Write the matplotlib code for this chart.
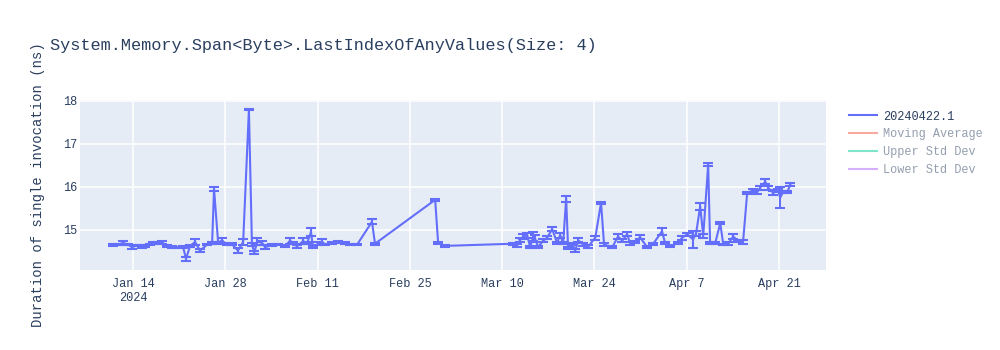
import pandas as pd
import matplotlib
matplotlib.use("Agg")
import matplotlib.pyplot as plt
from matplotlib.lines import Line2D

# benchmark runs: timestamp, mean duration (ns), error
dates = [
    "2024-01-10 23:00", "2024-01-11 17:00", "2024-01-12 12:00", "2024-01-13 06:00",
    "2024-01-13 20:00", "2024-01-14 15:00", "2024-01-15 09:00", "2024-01-15 20:00",
    "2024-01-16 14:00", "2024-01-17 01:00", "2024-01-17 15:00", "2024-01-18 10:00",
    "2024-01-19 04:00", "2024-01-19 22:00", "2024-01-20 20:00", "2024-01-21 14:00",
    "2024-01-22 01:00", "2024-01-22 16:00", "2024-01-23 10:00", "2024-01-24 04:00",
    "2024-01-25 06:00", "2024-01-26 00:00", "2024-01-26 07:00", "2024-01-26 22:00",
    "2024-01-27 12:00", "2024-01-28 06:00", "2024-01-29 00:00", "2024-01-29 22:00",
    "2024-01-30 17:00", "2024-01-31 14:00", "2024-02-01 01:00", "2024-02-01 10:00",
    "2024-02-01 20:00", "2024-02-02 14:00", "2024-02-03 01:00", "2024-02-04 02:00",
    "2024-02-05 00:00", "2024-02-06 02:00", "2024-02-06 20:00", "2024-02-07 07:00",
    "2024-02-07 21:00", "2024-02-08 19:00", "2024-02-09 10:00", "2024-02-10 00:00",
    "2024-02-10 07:00", "2024-02-11 02:00", "2024-02-11 16:00", "2024-02-12 03:00",
    "2024-02-13 05:00", "2024-02-14 03:00", "2024-02-15 04:00", "2024-02-15 22:00",
    "2024-02-17 00:00", "2024-02-19 06:00", "2024-02-19 17:00", "2024-02-28 20:00",
    "2024-02-29 07:00", "2024-03-01 08:00", "2024-03-11 16:00", "2024-03-12 06:00",
    "2024-03-12 18:00", "2024-03-13 04:00", "2024-03-13 19:00", "2024-03-14 06:00",
    "2024-03-14 17:00", "2024-03-15 00:00", "2024-03-15 11:00", "2024-03-16 05:00",
    "2024-03-16 20:00", "2024-03-17 14:00", "2024-03-18 08:00", "2024-03-18 19:00",
    "2024-03-19 06:00", "2024-03-19 17:00", "2024-03-20 00:00", "2024-03-20 15:00",
    "2024-03-21 02:00", "2024-03-21 13:00", "2024-03-22 07:00", "2024-03-23 01:00",
    "2024-03-24 03:00", "2024-03-25 00:00", "2024-03-25 11:00", "2024-03-26 17:00",
    "2024-03-27 14:00", "2024-03-28 05:00", "2024-03-28 23:00", "2024-03-29 10:00",
    "2024-03-30 04:00", "2024-03-30 22:00", "2024-04-01 00:00", "2024-04-01 22:00",
    "2024-04-03 06:00", "2024-04-03 17:00", "2024-04-04 12:00", "2024-04-05 17:00",
    "2024-04-06 07:00", "2024-04-07 02:00", "2024-04-07 23:00", "2024-04-08 10:00",
    "2024-04-09 01:00", "2024-04-09 12:00", "2024-04-10 06:00", "2024-04-10 13:00",
    "2024-04-11 08:00", "2024-04-12 02:00", "2024-04-12 13:00", "2024-04-13 07:00",
    "2024-04-14 01:00", "2024-04-14 19:00", "2024-04-15 13:00", "2024-04-16 04:00",
    "2024-04-17 02:00", "2024-04-17 17:00", "2024-04-18 03:00", "2024-04-18 22:00",
    "2024-04-19 09:00", "2024-04-20 03:00", "2024-04-20 21:00", "2024-04-21 04:00",
    "2024-04-21 15:00", "2024-04-22 06:00", "2024-04-22 17:00",
]
means = [
    14.65, 14.66, 14.70, 14.66, 14.60, 14.64, 14.62, 14.63,
    14.66, 14.70, 14.69, 14.71, 14.63, 14.60, 14.59, 14.61,
    14.33, 14.63, 14.72, 14.52, 14.66, 14.70, 15.95, 14.70,
    14.76, 14.66, 14.67, 14.52, 14.72, 17.80, 14.66, 14.48,
    14.73, 14.70, 14.60, 14.65, 14.66, 14.63, 14.75, 14.70,
    14.62, 14.74, 14.70, 14.95, 14.60, 14.68, 14.73, 14.66,
    14.70, 14.72, 14.70, 14.66, 14.66, 15.19, 14.68, 15.70,
    14.69, 14.63, 14.68, 14.64, 14.77, 14.84, 14.88, 14.60,
    14.85, 14.80, 14.60, 14.75, 14.82, 15.02, 14.70, 14.88,
    14.70, 15.73, 14.58, 14.67, 14.52, 14.76, 14.66, 14.61,
    14.82, 15.63, 14.66, 14.60, 14.85, 14.75, 14.90, 14.68,
    14.72, 14.83, 14.60, 14.68, 14.97, 14.70, 14.62, 14.70,
    14.82, 14.90, 14.78, 14.92, 15.55, 14.86, 16.52, 14.70,
    14.70, 15.16, 14.66, 14.68, 14.85, 14.74, 14.72, 15.86,
    15.92, 15.88, 15.98, 16.12, 15.98, 15.86, 15.92, 15.75,
    15.88, 15.88, 16.05,
]
errors = [
    0.02, 0.02, 0.04, 0.02, 0.05, 0.02, 0.03, 0.02,
    0.02, 0.03, 0.02, 0.03, 0.02, 0.03, 0.02, 0.02,
    0.04, 0.02, 0.08, 0.04, 0.02, 0.03, 0.05, 0.03,
    0.06, 0.02, 0.03, 0.05, 0.08, 0.02, 0.03, 0.04,
    0.08, 0.05, 0.04, 0.02, 0.02, 0.03, 0.07, 0.03,
    0.03, 0.07, 0.03, 0.10, 0.03, 0.03, 0.05, 0.02,
    0.03, 0.02, 0.02, 0.02, 0.02, 0.06, 0.02, 0.02,
    0.02, 0.03, 0.02, 0.03, 0.05, 0.06, 0.06, 0.03,
    0.10, 0.08, 0.03, 0.04, 0.04, 0.05, 0.03, 0.06,
    0.03, 0.07, 0.03, 0.02, 0.04, 0.05, 0.03, 0.03,
    0.05, 0.02, 0.03, 0.03, 0.05, 0.03, 0.05, 0.03,
    0.03, 0.05, 0.03, 0.02, 0.08, 0.02, 0.02, 0.03,
    0.05, 0.04, 0.20, 0.05, 0.08, 0.04, 0.04, 0.02,
    0.02, 0.02, 0.02, 0.03, 0.06, 0.02, 0.04, 0.03,
    0.03, 0.04, 0.04, 0.06, 0.04, 0.04, 0.04, 0.24,
    0.03, 0.03, 0.04,
]

tick_dates = ["2024-01-14", "2024-01-28", "2024-02-11", "2024-02-25",
              "2024-03-10", "2024-03-24", "2024-04-07", "2024-04-21"]
tick_labels = ["Jan 14\n2024", "Jan 28", "Feb 11", "Feb 25",
               "Mar 10", "Mar 24", "Apr 7", "Apr 21"]

series_names = ["20240422.1", "Moving Average", "Upper Std Dev", "Lower Std Dev"]
series_colors = ["#636efa", "#ef553b", "#00cc96", "#ab63fa"]

x = pd.to_datetime(dates)
font = "Liberation Mono"
txt = "#2a3f5f"

fig = plt.figure(figsize=(10, 3.5), dpi=100)
ax = fig.add_axes([0.08, 0.2286, 0.746, 0.4857])
ax.set_facecolor("#e5ecf6")

ax.errorbar(x, means, yerr=errors, color=series_colors[0], lw=1.5,
            elinewidth=1.5, capsize=3.8, capthick=1.5, zorder=3)

ax.set_xlim(pd.Timestamp("2024-01-05 23:00"), pd.Timestamp("2024-04-28 03:00"))
ax.set_ylim(14.07, 18.02)
ax.set_yticks([15, 16, 17, 18])
ax.set_xticks(pd.to_datetime(tick_dates))
ax.set_xticklabels(tick_labels)
ax.grid(True, color="white", lw=1.1)
ax.set_axisbelow(True)
for s in ax.spines.values():
    s.set_visible(False)
ax.tick_params(length=0, labelsize=8.6, labelcolor=txt)
ax.tick_params(axis="x", pad=6)
ax.tick_params(axis="y", pad=2)
for lab in ax.get_xticklabels() + ax.get_yticklabels():
    lab.set_fontfamily(font)

ax.set_ylabel("Duration of single invocation (ns)", fontsize=10, color=txt,
              fontfamily=font, labelpad=13)
fig.text(0.05, 0.87, "System.Memory.Span<Byte>.LastIndexOfAnyValues(Size: 4)",
         fontsize=12.2, color=txt, fontfamily=font, va="center")

handles = []
for i, (name, col) in enumerate(zip(series_names, series_colors)):
    handles.append(Line2D([], [], color=col, lw=1.5, alpha=1 if i == 0 else 0.5))
leg = fig.legend(handles, series_names, loc="upper left", bbox_to_anchor=(0.838, 0.715),
                 frameon=False, handlelength=2.4, handletextpad=0.5, labelspacing=0.5,
                 prop={"family": font, "size": 8.6})
for i, t in enumerate(leg.get_texts()):
    t.set_color(txt)
    if i > 0:
        t.set_alpha(0.5)

fig.savefig("out.png", dpi=100)
